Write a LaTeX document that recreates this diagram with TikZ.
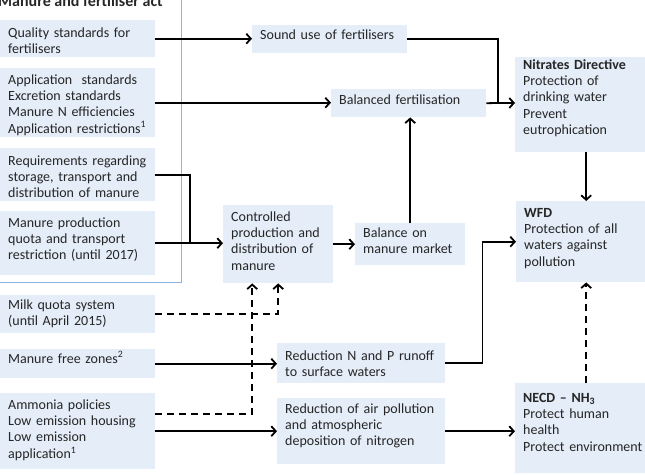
\documentclass[tikz,border=0pt]{standalone}
\usepackage{fontspec}
\setmainfont{Carlito}
\usetikzlibrary{arrows.meta}
\definecolor{fondo}{HTML}{E4EDF8}
\definecolor{marco}{HTML}{8DB3E2}
\definecolor{texto}{HTML}{262626}
\newcommand{\lineas}[1]{\begin{tabular}[t]{@{}l@{}}#1\end{tabular}}

\begin{document}
\begin{tikzpicture}[x=1pt,y=-1pt,>={Straight Barb[length=4.5pt,width=10pt]},
    caja/.style={fill=fondo, anchor=north west, inner xsep=8pt, inner ysep=0pt, align=left, text=texto, font=\fontsize{14}{16.3}\selectfont},
    flecha/.style={draw, line width=1.8pt, ->},
    linea/.style={draw, line width=1.8pt},
    discontinua/.style={dash pattern=on 7pt off 5pt}]
    \useasboundingbox (0,0) rectangle (645,474);
    \draw[marco, line width=1pt] (-10,-10) rectangle (181.5,282);
    \node[anchor=base east, inner sep=0pt, text=texto, font=\fontsize{16}{19}\selectfont\bfseries] (titulo) at (163,6) {Manure and fertiliser act};

    % left column
    \node[caja, text width=139pt, text height=17pt, text depth=20pt] (1a) at (0,20) {\lineas{Quality standards for\\fertilisers}};
    \node[caja, text width=139pt, text height=16pt, text depth=53pt] (2a) at (0,68) {\lineas{Application\ \ standards\\Excretion standards\\Manure N efficiencies\\Application restrictions\textsuperscript{1}}};
    \node[caja, text width=139pt, text height=17pt, text depth=36pt] (3a) at (0,148) {\lineas{Requirements regarding\\storage, transport and\\distribution of manure}};
    \node[caja, text width=139pt, text height=16pt, text depth=48pt] (4a) at (0,211) {\lineas{Manure production\\quota and transport\\restriction (until 2017)}};
    \node[caja, text width=139pt, text height=14pt, text depth=24pt] (5a) at (0,295) {\lineas{Milk quota system\\(until April 2015)}};
    \node[caja, text width=139pt, text height=14pt, text depth=15pt] (6a) at (0,349) {\lineas{Manure free zones\textsuperscript{2}}};
    \node[caja, text width=139pt, text height=16pt, text depth=60pt] (7a) at (0,393) {\lineas{Ammonia policies\\Low emission housing\\Low emission\\application\textsuperscript{1}}};

    % middle column
    \node[caja, text width=139pt, text height=14pt, text depth=14pt] (1b) at (252,25) {\lineas{Sound use of fertilisers}};
    \node[caja, text width=139pt, text height=15pt, text depth=13pt] (2b) at (331,89) {\lineas{Balanced fertilisation}};
    \node[caja, text width=94pt, text height=16pt, text depth=62pt] (3b) at (223,205) {\lineas{Controlled\\production and\\distribution of\\manure}};
    \node[caja, text width=94pt, text height=14pt, text depth=28pt] (4b) at (355,223) {\lineas{Balance on\\manure market}};
    \node[caja, text width=152pt, text height=17pt, text depth=23pt] (5b) at (277,343) {\lineas{Reduction N and P runoff\\to surface waters}};
    \node[caja, text width=152pt, text height=15pt, text depth=51pt] (6b) at (277,398) {\lineas{Reduction of air pollution\\and atmospheric\\deposition of nitrogen}};

    % right column
    \node[caja, text width=126pt, text height=12pt, text depth=83pt] (1c) at (515,57) {\lineas{\textbf{Nitrates Directive}\\Protection of\\drinking water\\Prevent\\eutrophication}};
    \node[caja, text width=126pt, text height=16pt, text depth=65pt] (2c) at (516,201) {\lineas{\textbf{WFD}\\Protection of all\\waters against\\pollution}};
    \node[caja, text width=126pt, text height=19pt, text depth=71pt] (3c) at (515,383) {\lineas{\textbf{NECD -- NH\textsubscript{3}}\\Protect human\\health\\Protect environment}};

    \coordinate (u1) at (498,103);
    \coordinate (u2) at (190,243);

    \path[flecha] (1a.east) -- (1a.east -| 1b.west);
    \path[flecha] (2a.east) -- (2a.east -| 2b.west);
    \path[linea] (1b.east) -| (u1);
    \path[flecha] (2b.east) -- (u1) -- (u1 -| 1c.west);
    \path[flecha] (4b.north) -- (4b.north |- 2b.south);
    \path[linea] (3a.east) -| (u2);
    \path[flecha] (4a.east) -- (4a.east -| 3b.west);
    \path[flecha] (3b.east) -- (3b.east -| 4b.west);
    \path[flecha] (1c.south) -- (1c.south |- 2c.north);
    \path[flecha] (5b.east) -- ++(37,0) |- (2c.west);
    \path[flecha] (6a.east) -- (6a.east -| 5b.west);
    \path[flecha] (7a.east) -- (7a.east -| 6b.west);
    \path[flecha] (6b.east) -- (6b.east -| 3c.west);
    \path[flecha, discontinua] (5a.east) -| (3b.south);
    \path[flecha, discontinua] ([yshift=-21pt]7a.north east) -| ([xshift=-26pt]3b.south);
    \path[flecha, discontinua] (3c.north) -- (3c.north |- 2c.south);
\end{tikzpicture}
\end{document}
